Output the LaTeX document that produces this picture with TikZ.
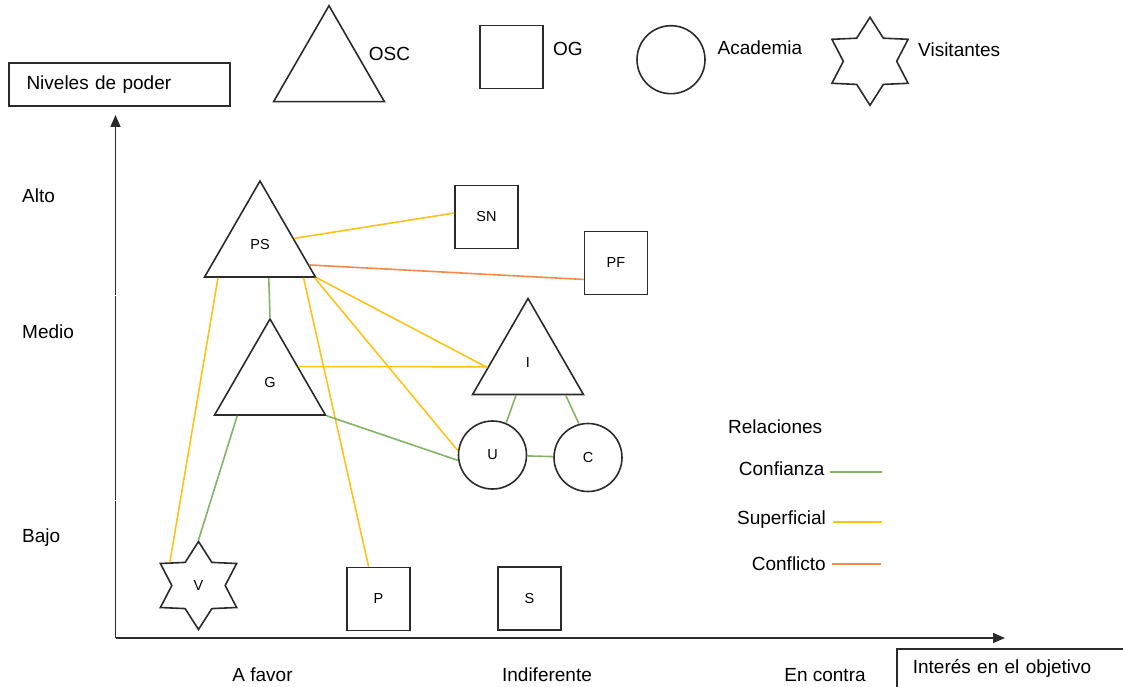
\documentclass[tikz,border=0pt]{standalone}
\usepackage{fontspec}
\setmainfont{Liberation Sans}
\usetikzlibrary{shapes.geometric,arrows.meta}
\definecolor{verde}{HTML}{82B366}
\definecolor{amarillo}{HTML}{FFC21A}
\definecolor{naranja}{HTML}{F5894A}
\definecolor{trazo}{HTML}{2B2B2B}

\begin{document}
\begin{tikzpicture}[x=1pt,y=-1pt,
        lbl/.style={font=\fontsize{19}{22}\selectfont,inner sep=0pt},
        forma/.style={draw=trazo,line width=1.6pt,inner sep=0pt,font=\fontsize{14.5}{16}\selectfont},
        triangulo/.style={forma,regular polygon,regular polygon sides=3,minimum size=128pt},
        cuadro/.style={forma,rectangle,minimum size=63pt},
        circulo/.style={forma,circle,minimum size=68pt},
        estrella/.style={forma,star,star points=6,star point ratio=1.65,minimum size=88pt},
        conf/.style={verde,line width=1.6pt},
        sup/.style={amarillo,line width=1.6pt},
        confl/.style={naranja,line width=1.6pt}]
    \useasboundingbox (0,0) rectangle (1123,687);

    %% Ejes
    \coordinate (O) at (115.5,638);
    \draw[trazo,line width=1.6pt,-{Triangle[length=12pt,width=10pt]}] (O) -- (115.5,115);
    \draw[trazo,line width=1.6pt,-{Triangle[length=12pt,width=10pt]}] (O) -- (1005,638);
    \draw[white,line width=1.2pt] (112,295.5) -- (119,295.5);
    \draw[white,line width=1.2pt] (112,500.5) -- (119,500.5);

    \node[lbl,draw=trazo,line width=1.6pt,anchor=north west,minimum width=221pt,minimum height=43pt,
        text width=185.6pt,inner xsep=17.7pt,align=left] (niveles) at (8,62) {Niveles de poder};
    \node[lbl,draw=trazo,line width=1.6pt,anchor=north west,inner xsep=16pt,inner ysep=11pt,
        text height=14pt,text depth=30pt,text width=240pt,align=left] (interes) at (896,648) {Interés en el objetivo};

    \node[lbl,anchor=west] (alto) at (22,196) {Alto};
    \node[lbl,anchor=west] (medio) at (22,332) {Medio};
    \node[lbl,anchor=west] (bajo) at (22,538) {Bajo};
    \node[lbl] (favor) at (262.5,675) {A favor};
    \node[lbl] (indif) at (547,675) {Indiferente};
    \node[lbl] (contra) at (825,675) {En contra};

    %% Leyenda de actores
    \node[triangulo] (leyOSC) at (329,69.7) {};
    \node[lbl,anchor=west] at (368.6,54) {OSC};
    \node[cuadro] (leyOG) at (511.5,57.2) {};
    \node[lbl,anchor=west] at (553,49) {OG};
    \node[circulo] (leyAca) at (671,59.7) {};
    \node[lbl,anchor=west] at (717.5,47.7) {Academia};
    \node[estrella] (leyVis) at (870,61.3) {};
    \node[lbl,anchor=west] at (918,49.3) {Visitantes};

    %% Actores
    \node[triangulo] (PS) at (260,245) {PS};
    \node[triangulo] (G) at (270,383) {G};
    \node[triangulo] (I) at (528,362.5) {I};
    \node[cuadro] (SN) at (486.5,217) {SN};
    \node[cuadro] (PF) at (616,263) {PF};
    \node[cuadro] (P) at (378.5,599) {P};
    \node[cuadro] (S) at (529.5,598.5) {S};
    \node[circulo] (U) at (492.5,455) {U};
    \node[circulo] (C) at (588,457.5) {C};
    \node[estrella] (V) at (198.5,585.5) {V};

    %% Relaciones
    \draw[sup] (PS.11) -- (SN.173);
    \draw[confl] (PS.-22) -- (PF.207);
    \draw[sup] (PS.218) -- (V.141);
    \draw[conf] (PS.-75) -- (G.corner 1);
    \draw[sup] (PS.-37) -- (P.107);
    \draw[sup] (PS.-31) -- (U.173);
    \draw[sup] (PS.corner 3) -- (I.187);
    \draw[sup] (G.30) -- (I.186);
    \draw[conf] (G.corner 3) -- (U.189);
    \draw[conf] (G.225) -- (V.90);
    \draw[conf] (I.250) -- (U.67);
    \draw[conf] (I.-41) -- (C.105);
    \draw[conf] (U) -- (C);

    %% Leyenda de relaciones
    \node[lbl,anchor=west] (rel) at (728,426.7) {Relaciones};
    \node[lbl,anchor=east] (lconf) at (824.7,469) {Confianza};
    \node[lbl,anchor=east] (lsup) at (826,520) {Superficial};
    \node[lbl,anchor=east] (lconfl) at (826,563.3) {Conflicto};
    \draw[conf,line width=2pt] ([xshift=5pt,yshift=-3pt]lconf.east) -- ++(52,0);
    \draw[sup,line width=2pt] ([xshift=7pt,yshift=-2pt]lsup.east) -- ++(49,0);
    \draw[confl,line width=2pt] ([xshift=6pt,yshift=-1pt]lconfl.east) -- ++(49,0);
\end{tikzpicture}
\end{document}
